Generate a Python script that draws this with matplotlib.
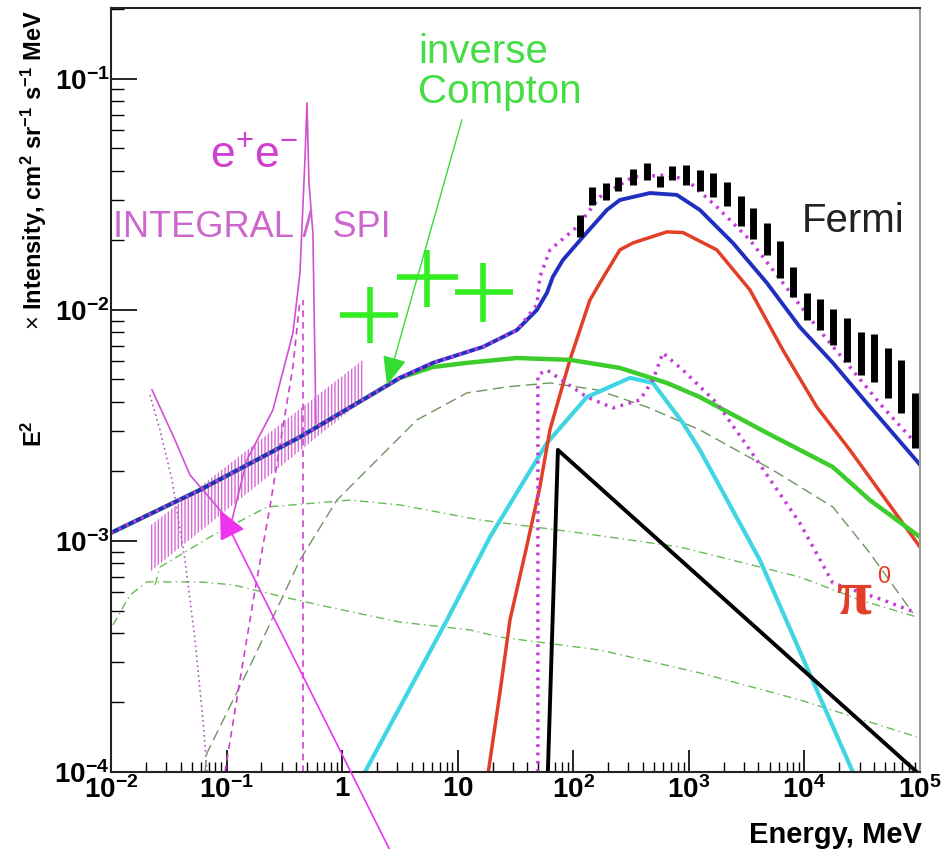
import numpy as np
import matplotlib
matplotlib.use('Agg')
import matplotlib.pyplot as plt
from matplotlib.ticker import FixedLocator, FixedFormatter, LogLocator, NullFormatter

plt.rcParams['font.family'] = ['Liberation Sans', 'DejaVu Sans']
plt.rcParams['mathtext.fontset'] = 'custom'
plt.rcParams['mathtext.rm'] = 'Liberation Sans'
plt.rcParams['mathtext.bf'] = 'Liberation Sans:bold'
plt.rcParams['mathtext.it'] = 'Liberation Sans:italic'
plt.rcParams['hatch.linewidth'] = 1.0

# all values are log10(E / MeV) and log10(E^2 x intensity)

# total model (blue solid)
total_logE = [-2.0, -1.23, -0.365, 0.5, 0.785, 1.218, 1.512, 1.685, 1.772, 1.823, 1.910, 2.083,
              2.291, 2.403, 2.663, 2.896, 3.095, 3.381, 3.675, 3.960, 4.246, 4.540, 5.0]
total_logI = [-2.965, -2.779, -2.550, -2.294, -2.229, -2.160, -2.087, -2.000, -1.926, -1.857, -1.784, -1.684,
              -1.567, -1.524, -1.494, -1.502, -1.567, -1.710, -1.883, -2.074, -2.229, -2.403, -2.67]

# second total model (magenta dotted)
total2_logE = [-2.0, -1.23, -0.365, 0.5, 0.785, 1.218, 1.512, 1.685, 1.711, 1.798, 2.031, 2.230,
               2.516, 2.810, 2.983, 3.242, 3.528, 3.813, 4.107, 4.393, 4.678, 4.938]
total2_logI = [-2.965, -2.779, -2.550, -2.294, -2.229, -2.160, -2.087, -1.978, -1.857, -1.740, -1.641, -1.511,
               -1.424, -1.416, -1.437, -1.554, -1.697, -1.883, -2.074, -2.247, -2.420, -2.563]

# inverse Compton (green thick)
ic_logE = [-2.0, -1.23, -0.365, 0.5, 0.785, 1.080, 1.512, 1.971, 2.403, 2.810, 3.095, 3.675, 4.246, 4.566, 5.0]
ic_logI = [-2.965, -2.779, -2.550, -2.294, -2.247, -2.229, -2.208, -2.216, -2.251, -2.316, -2.377, -2.532,
           -2.680, -2.823, -2.983]

# pi0 decay (red)
pi0_logE = [1.25, 1.365, 1.452, 1.590, 1.711, 1.798, 1.971, 2.144, 2.230, 2.403, 2.516, 2.810, 2.950,
            3.242, 3.528, 3.813, 4.107, 4.393, 5.0]
pi0_logI = [-4.05, -3.658, -3.342, -3.039, -2.766, -2.519, -2.216, -1.957, -1.883, -1.740, -1.710, -1.662,
            -1.665, -1.740, -1.913, -2.173, -2.420, -2.606, -3.026]

# second pi0 model (magenta dotted)
pi02_logE = [1.694, 1.694, 1.772, 2.118, 2.343, 2.576, 2.689, 2.775, 2.948, 3.242, 3.528, 3.960, 4.246,
             4.678, 4.972]
pi02_logI = [-4.0, -2.281, -2.260, -2.377, -2.424, -2.390, -2.303, -2.186, -2.260, -2.403, -2.606, -2.922,
             -3.182, -3.255, -3.312]

# cyan component
cyan_logE = [0.197, 0.907, 1.279, 1.772, 2.118, 2.490, 2.689, 2.948, 3.095, 3.614, 4.107, 4.419]
cyan_logI = [-4.0, -3.342, -2.983, -2.576, -2.377, -2.294, -2.316, -2.489, -2.606, -3.082, -3.645, -4.0]

# black component
black_logE = [1.78, 1.867, 4.972]
black_logI = [-4.0, -2.606, -4.0]

# thin green components
g1_logE = [-1.187, -1.170, -0.772, -0.365, -0.045, 0.647, 1.080, 1.426, 1.798, 2.204, 2.637, 3.095, 3.441,
           3.727, 4.246, 4.566, 4.938]
g1_logI = [-4.0, -3.918, -3.515, -3.082, -2.823, -2.476, -2.359, -2.333, -2.316, -2.346, -2.420, -2.519,
           -2.615, -2.693, -2.853, -3.052, -3.312]
g3_logE = [-1.619, -1.576, -1.144, -0.651, 0.067, 0.5, 1.192, 2.057, 2.922, 3.960, 4.479, 4.972]
g3_logI = [-3.190, -3.113, -2.983, -2.853, -2.823, -2.844, -2.909, -2.965, -3.026, -3.156, -3.255, -3.329]
g4_logE = [-1.983, -1.836, -1.689, -1.230, -0.945, -0.512, -0.080, 0.5, 1.106, 1.365, 2.230, 3.095, 3.960, 4.972]
g4_logI = [-3.364, -3.234, -3.177, -3.177, -3.190, -3.242, -3.290, -3.351, -3.385, -3.416, -3.472, -3.571,
           -3.688, -3.848]

# e+e- annihilation lines (magenta, thin)
ee_logE = [-0.953, -0.824, -0.599, -0.426, -0.365, -0.322, -0.304, -0.287, -0.253, -0.227]
ee_logI = [-2.909, -2.649, -2.433, -2.100, -1.840, -1.351, -1.104, -1.450, -1.667, -2.489]
eed_logE = [-1.014, -0.884, -0.754, -0.625, -0.521, -0.426, -0.365]
eed_logI = [-4.0, -3.602, -3.212, -2.853, -2.532, -2.247, -1.957]
eev_logE = [-0.339, -0.339]
eev_logI = [-4.0, -1.957]
eedot_logE = [-1.663, -1.576, -1.472, -1.360, -1.273, -1.204, -1.170]
eedot_logI = [-2.368, -2.519, -2.736, -3.082, -3.429, -3.775, -4.0]
eesol_logE = [-1.645, -1.446, -1.317, -1.057]
eesol_logI = [-2.346, -2.563, -2.714, -2.866]

# INTEGRAL/SPI band
spi_logE = [-1.655, 0.180]
spi_logI_lo = [-3.130, -2.390]
spi_logI_hi = [-2.931, -2.216]

# green data crosses
cross_logE = [0.240, 0.734, 1.218]
cross_logE_lo = [-0.019, 0.474, 0.976]
cross_logE_hi = [0.483, 1.002, 1.478]
cross_logI = [-2.022, -1.857, -1.922]
cross_logI_lo = [-2.143, -1.987, -2.052]
cross_logI_hi = [-1.900, -1.740, -1.797]

# Fermi data
fermi_logE = [2.057, 2.161, 2.282, 2.386, 2.516, 2.637, 2.749, 2.853, 2.974, 3.095, 3.208, 3.329, 3.450,
              3.554, 3.675, 3.787, 3.900, 4.021, 4.133, 4.246, 4.367, 4.488, 4.600, 4.721, 4.834, 4.955]
fermi_logI_lo = [-1.684, -1.545, -1.524, -1.485, -1.459, -1.437, -1.468, -1.437, -1.459, -1.485, -1.511,
                 -1.550, -1.636, -1.693, -1.762, -1.861, -1.944, -2.043, -2.087, -2.152, -2.225, -2.281,
                 -2.312, -2.381, -2.446, -2.597]
fermi_logI_hi = [-1.589, -1.468, -1.450, -1.424, -1.390, -1.364, -1.420, -1.377, -1.372, -1.394, -1.407,
                 -1.446, -1.506, -1.558, -1.623, -1.701, -1.814, -1.926, -1.952, -1.996, -2.035, -2.095,
                 -2.104, -2.165, -2.216, -2.359]

x_ticks = [1e-2, 1e-1, 1, 10, 1e2, 1e3, 1e4, 1e5]
x_labels = [r'$\mathbf{10^{-2}}$', r'$\mathbf{10^{-1}}$', r'$\mathbf{1}$', r'$\mathbf{10}$',
            r'$\mathbf{10^{2}}$', r'$\mathbf{10^{3}}$', r'$\mathbf{10^{4}}$', r'$\mathbf{10^{5}}$']
y_ticks = [1e-4, 1e-3, 1e-2, 1e-1]
y_labels = [r'$\mathbf{10^{-4}}$', r'$\mathbf{10^{-3}}$', r'$\mathbf{10^{-2}}$', r'$\mathbf{10^{-1}}$']


def lin(v):
    return 10 ** np.asarray(v, dtype=float)


fig = plt.figure(figsize=(9.43, 8.49), dpi=100)
ax = fig.add_axes([111 / 943, 77 / 849, 809 / 943, 764 / 849])
ax.set_xscale('log')
ax.set_yscale('log')

dotted = (0, (0.8, 1.6))

# thin green components
ax.plot(lin(g1_logE), lin(g1_logI), color='#6f9464', lw=1.0, ls=(0, (8, 4)))
ax.plot(lin(g3_logE), lin(g3_logI), color='#66bb55', lw=1.0, ls=(0, (6, 3, 1, 3)))
ax.plot(lin(g4_logE), lin(g4_logI), color='#66bb55', lw=1.0, ls=(0, (6, 3, 1, 3)))

# INTEGRAL / SPI band and e+e- lines
ax.fill_between(lin(spi_logE), lin(spi_logI_lo), lin(spi_logI_hi), facecolor='none',
                edgecolor='#d868d8', hatch='|||||', linewidth=0)
ax.plot(lin(ee_logE), lin(ee_logI), color='#d050d0', lw=1.2)
ax.plot(lin(eed_logE), lin(eed_logI), color='#cc44cc', lw=1.2, ls=(0, (4, 3)))
ax.plot(lin(eev_logE), lin(eev_logI), color='#cc44cc', lw=1.2, ls=(0, (4, 3)))
ax.plot(lin(eedot_logE), lin(eedot_logI), color='#b055c0', lw=1.2, ls=(0, (1, 2)))
ax.plot(lin(eesol_logE), lin(eesol_logI), color='#d050d0', lw=1.2)

# main components
ax.plot(lin(cyan_logE), lin(cyan_logI), color='#3fd6e4', lw=3.0)
ax.plot(lin(pi0_logE), lin(pi0_logI), color='#e23e28', lw=2.5)
ax.plot(lin(black_logE), lin(black_logI), color='black', lw=2.8)
ax.plot(lin(ic_logE), lin(ic_logI), color='#3ccc2c', lw=3.2)
ax.plot(lin(total_logE), lin(total_logI), color='#1f2fc0', lw=2.8)
ax.plot(lin(pi02_logE), lin(pi02_logI), color='#c23ed8', lw=2.5, ls=dotted)
ax.plot(lin(total2_logE), lin(total2_logI), color='#c23ed8', lw=2.5, ls=dotted)

# Fermi data
ax.vlines(lin(fermi_logE), lin(fermi_logI_lo), lin(fermi_logI_hi), color='black', lw=5)

# green crosses
ce = lin(cross_logE)
ci = lin(cross_logI)
xerr = [ce - lin(cross_logE_lo), lin(cross_logE_hi) - ce]
yerr = [ci - lin(cross_logI_lo), lin(cross_logI_hi) - ci]
ax.errorbar(ce, ci, xerr=xerr, yerr=yerr, fmt='none', ecolor='#33ee22', elinewidth=4, capsize=0)

# arrows
ax.annotate('', xy=(10 ** 0.388, 10 ** -2.325), xytext=(10 ** 1.036, 10 ** -1.177),
            arrowprops=dict(arrowstyle='-|>,head_length=0.6,head_width=0.25', color='#33dd33',
                            lw=1.0, mutation_scale=30, shrinkA=0, shrinkB=0),
            annotation_clip=False)
ax.annotate('', xy=(10 ** -1.057, 10 ** -2.866), xytext=(10 ** 0.413, 10 ** -4.338),
            arrowprops=dict(arrowstyle='-|>,head_length=0.6,head_width=0.28', color='#ee33ee',
                            lw=1.2, mutation_scale=30, shrinkA=0, shrinkB=0),
            annotation_clip=False)

# annotations
ax.text(10 ** 0.656, 10 ** -0.931, 'inverse', color='#44dd44', fontsize=29, ha='left', va='baseline')
ax.text(10 ** 0.656, 10 ** -1.104, 'Compton', color='#44dd44', fontsize=29, ha='left', va='baseline')
ax.text(10 ** -1.144, 10 ** -1.381, r'e$^{+}$e$^{-}$', color='#d040d0', fontsize=32, ha='left', va='baseline')
ax.text(10 ** -1.983, 10 ** -1.684, 'INTEGRAL /  SPI', color='#cc66cc', fontsize=26, ha='left', va='baseline')
ax.text(10 ** 4.869, 10 ** -1.662, 'Fermi', color='#222222', fontsize=29, ha='right', va='baseline')
ax.text(10 ** 4.275, 10 ** -3.312, 'π', color='#e23e28', fontsize=46, fontweight='bold',
        family='Liberation Serif', ha='left', va='baseline')
ax.text(10 ** 4.630, 10 ** -3.182, '0', color='#e23e28', fontsize=17, ha='left', va='baseline')

# axes
ax.set_xlim(1e-2, 1e5)
ax.set_ylim(1e-4, 10 ** -0.693)
ax.xaxis.set_major_locator(FixedLocator(x_ticks))
ax.xaxis.set_major_formatter(FixedFormatter(x_labels))
ax.yaxis.set_major_locator(FixedLocator(y_ticks))
ax.yaxis.set_major_formatter(FixedFormatter(y_labels))
ax.xaxis.set_minor_locator(LogLocator(base=10, subs=np.arange(2, 10), numticks=30))
ax.yaxis.set_minor_locator(LogLocator(base=10, subs=np.arange(2, 10), numticks=30))
ax.xaxis.set_minor_formatter(NullFormatter())
ax.yaxis.set_minor_formatter(NullFormatter())
ax.tick_params(which='both', direction='in', top=False, right=False)
ax.tick_params(axis='x', which='major', length=16, width=1.2, labelsize=20, pad=3)
ax.tick_params(axis='x', which='minor', length=7, width=1.0)
ax.tick_params(axis='y', which='major', length=19, width=1.2, labelsize=20, pad=1)
ax.tick_params(axis='y', which='minor', length=9, width=1.0)
for s in ['left', 'bottom', 'top']:
    ax.spines[s].set_linewidth(1.5)
    ax.spines[s].set_color('#222222')
ax.spines['right'].set_linewidth(1.5)
ax.spines['right'].set_color('#999999')

# axis titles
fig.text(922 / 943, 6 / 849, 'Energy, MeV', fontsize=21, fontweight='bold', ha='right', va='baseline')
fig.text(34 / 943, 1 - 420 / 849, r'E$^{\mathbf{2}}$', fontsize=17, fontweight='bold',
         rotation=90, ha='center', va='top')
fig.text(34 / 943, 1 - 10 / 849,
         r'$\times$ Intensity, cm$^{\mathbf{2}}$ sr$^{\mathbf{-1}}$ s$^{\mathbf{-1}}$ MeV',
         fontsize=17, fontweight='bold', rotation=90, ha='center', va='top')

fig.savefig('out.png', dpi=100)
